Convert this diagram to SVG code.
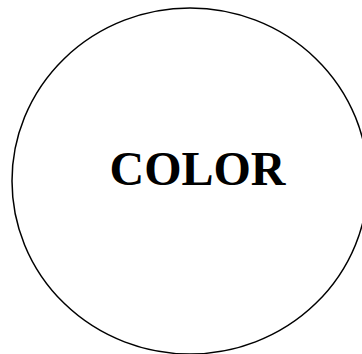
<svg xmlns="http://www.w3.org/2000/svg" width="362" height="354" viewBox="0 0 362 354">
<style>
.shape{fill:#fff;stroke:#000;stroke-width:1.5}
.lbl{font-family:"Liberation Serif","Times New Roman",serif;font-weight:bold;font-size:48px;fill:#000}
</style>
<rect width="362" height="354" fill="#fff"/>
<g id="color">
<ellipse class="shape" cx="190" cy="181" rx="178" ry="173"/>
<text class="lbl" x="197.5" y="185" text-anchor="middle">COLOR</text>
</g>
<g id="connectors"/>
</svg>
